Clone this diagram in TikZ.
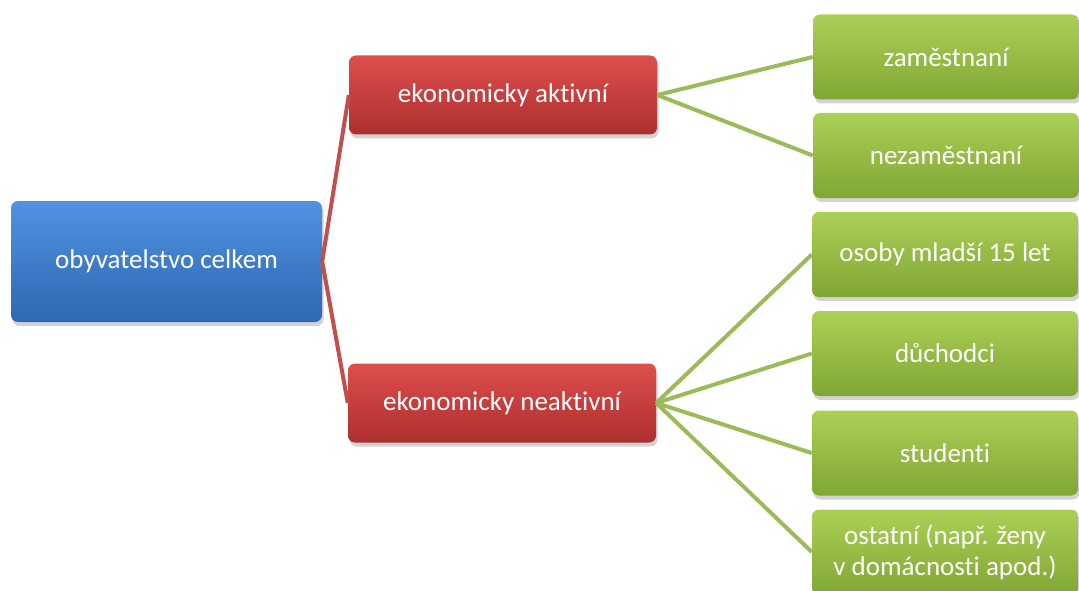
\documentclass[tikz,border=0pt]{standalone}
\usepackage{fontspec}
\setmainfont{Carlito}[Ligatures={NoCommon}]
\usetikzlibrary{shadows}
\definecolor{bluetop}{RGB}{80,146,226}
\definecolor{bluebot}{RGB}{46,104,176}
\definecolor{redtop}{RGB}{222,78,76}
\definecolor{redbot}{RGB}{172,48,46}
\definecolor{greentop}{RGB}{172,208,86}
\definecolor{greenbot}{RGB}{128,166,52}
\definecolor{redline}{RGB}{192,80,77}
\definecolor{greenline}{RGB}{155,187,89}
\tikzset{
  boxbase/.style={rectangle, rounded corners=7pt, text=white, align=center,
    font=\fontsize{27}{31}\selectfont, inner sep=0pt,
    drop shadow={shadow xshift=1.5pt, shadow yshift=-4pt, opacity=0.35}},
  bluebox/.style={boxbase, top color=bluetop, bottom color=bluebot,
    minimum width=311pt, minimum height=121pt},
  redbox/.style={boxbase, top color=redtop, bottom color=redbot,
    minimum width=308pt, minimum height=79pt},
  greenbox/.style={boxbase, top color=greentop, bottom color=greenbot,
    minimum width=266pt, minimum height=85pt},
  redconn/.style={draw=redline, line width=4pt},
  greenconn/.style={draw=greenline, line width=4pt},
}
\begin{document}
\begin{tikzpicture}[x=1pt,y=-1pt]
\useasboundingbox (0,0) rectangle (1079,591);
\node[bluebox] (root) at (166.5,261.5) {obyvatelstvo celkem};
\node[redbox] (act) at (503,95) {ekonomicky aktivní};
\node[redbox] (inact) at (502,403) {ekonomicky neaktivní};
\node[greenbox] (g1) at (946,57) {zaměstnaní};
\node[greenbox] (g2) at (946,155.5) {nezaměstnaní};
\node[greenbox] (g3) at (945,254.5) {osoby mladší 15 let};
\node[greenbox] (g4) at (945,353.5) {důchodci};
\node[greenbox] (g5) at (945,453) {studenti};
\node[greenbox] (g6) at (945,552) {ostatní (např. ženy\\v domácnosti apod.)};
\draw[redconn] (act.west) -- (root.east) -- (inact.west);
\draw[greenconn] (act.east) -- (g1.west);
\draw[greenconn] (act.east) -- (g2.west);
\draw[greenconn] (inact.east) -- (g3.west);
\draw[greenconn] (inact.east) -- (g4.west);
\draw[greenconn] (inact.east) -- (g5.west);
\draw[greenconn] (inact.east) -- (g6.west);
\end{tikzpicture}
\end{document}
